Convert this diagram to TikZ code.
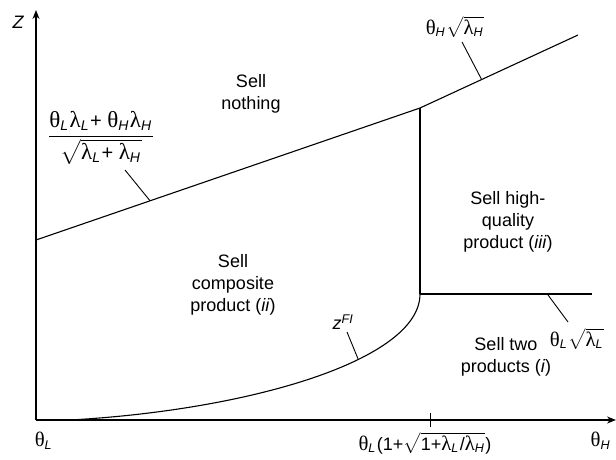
\documentclass[tikz,border=0pt]{standalone}
\usepackage{amsmath}
\usepackage{fontspec}
\setmainfont{Liberation Sans}
\newfontfamily\grk[Scale=1.15]{Liberation Serif}
\usetikzlibrary{arrows.meta}
\newcommand{\tht}{{\grk θ}}
\newcommand{\lam}{{\grk λ}}
\newcommand{\sbs}[1]{\textsubscript{\itshape #1}\kern1pt}
\begin{document}
\begin{tikzpicture}[x=1pt,y=-1pt,
  ln/.style={line width=1.1pt},
  ax/.style={line width=1.1pt,-{Stealth[length=9pt,width=7pt]}},
  lead/.style={line width=0.9pt},
  txt/.style={align=center,inner sep=0pt,font=\fontsize{18}{22}\selectfont},
  lbl/.style={inner sep=0pt,font=\fontsize{18}{22}\selectfont}]
\useasboundingbox (0,0) rectangle (616,459);
% axes
\coordinate (O) at (36,420);
\coordinate (Ytip) at (36,10);
\coordinate (Xtip) at (616,420);
\draw[ax] (O) -- (Ytip);
\draw[ax] (O) -- (Xtip);
\node[lbl] (zl) at (18,22) {\itshape Z};
\node[lbl] (thl) at (44,441) {\tht\sbs{L}};
\node[lbl] (thh) at (601,441) {\tht\sbs{H}};
% tick
\coordinate (t1) at (430,413);
\coordinate (t2) at (430,427);
\draw[lead] (t1) -- (t2);
\node[lbl] (tl) at (425,443) {\tht\sbs{L}(1+$\sqrt{\text{1+\lam\sbs{L}/\lam\sbs{H}}}$)};
% boundaries
\coordinate (A) at (36,240);
\coordinate (K) at (420,108);
\coordinate (E) at (578,35);
\coordinate (M) at (420,294);
\coordinate (R) at (592,294);
\coordinate (S) at (70,420);
\draw[ln] (A) -- coordinate[pos=0.297] (pA) (K) -- coordinate[pos=0.39] (pK) (E);
\draw[ln] (K) -- (M);
\draw[ln] (M) -- coordinate[pos=0.74] (pM) (R);
\draw[ln] (S) .. controls (250,410) and (420,360) .. coordinate[pos=0.63] (pC) (M);
% leaders
\coordinate (lA) at (125,170);
\coordinate (lK) at (462,42);
\coordinate (lM) at (568,322);
\coordinate (lC) at (347,332);
\draw[lead] (pA) -- (lA);
\draw[lead] (pK) -- (lK);
\draw[lead] (pM) -- (lM);
\draw[lead] (pC) -- (lC);
\node[inner sep=0pt,font=\fontsize{20}{24}\selectfont] (fr) at (101,138) {$\dfrac{\text{\tht\sbs{L}\lam\sbs{L} + \tht\sbs{H}\lam\sbs{H}}\rule[-5pt]{0pt}{5pt}}{\sqrt{\text{\lam\sbs{L} + \lam\sbs{H}}}}$};
\node[lbl] (hk) at (455,27) {\tht\sbs{H}$\sqrt{\text{\lam\sbs{H}}}$};
\node[lbl] (lmk) at (577,339) {\tht\sbs{L}$\sqrt{\text{\lam\sbs{L}}}$};
\node[lbl] (zfi) at (343,322) {\itshape z\textsuperscript{FI}};
% region labels
\node[txt] (r0) at (251,94) {Sell\\nothing};
\node[txt] (r3) at (508,222) {Sell high-\\quality\\product (\textit{iii})};
\node[txt] (r2) at (233,285) {Sell\\composite\\product (\textit{ii})};
\node[txt] (r1) at (506,357) {Sell two\\products (\textit{i})};
\end{tikzpicture}
\end{document}
